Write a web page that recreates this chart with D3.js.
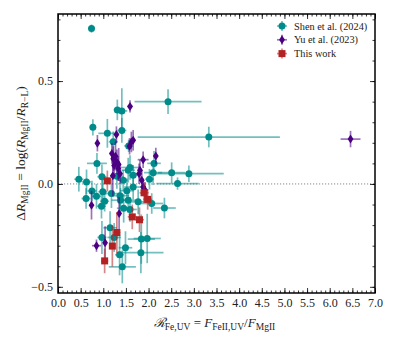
<!DOCTYPE html>
<html>
<head>
<meta charset="utf-8">
<script src="https://cdn.jsdelivr.net/npm/d3@7"></script>
<style>
  body { margin: 0; background: #fff; }
  text { font-family: "Liberation Serif", "DejaVu Serif", serif; }
</style>
</head>
<body>
<div id="chart"></div>
<script>
// [x, y, xerr, yerr]
var shen = [
  [0.74, 0.755, 0.04, 0.02], [2.43, 0.40, 0.74, 0.06], [1.31, 0.36, 0.08, 0.05],
  [1.41, 0.355, 0.12, 0.11], [0.77, 0.275, 0.04, 0.04], [1.09, 0.246, 0.2, 0.07],
  [1.41, 0.26, 0.1, 0.06], [1.22, 0.205, 0.1, 0.05], [1.56, 0.185, 0.1, 0.03],
  [3.33, 0.228, 1.57, 0.05], [2.12, 0.10, 0.15, 0.06], [0.86, 0.10, 0.22, 0.05],
  [1.59, 0.08, 0.2, 0.06], [0.46, 0.023, 0.1, 0.06], [0.63, 0.01, 0.1, 0.06],
  [0.97, 0.035, 0.1, 0.06], [1.30, 0.037, 0.15, 0.06], [1.55, 0.067, 0.15, 0.06],
  [1.66, 0.042, 0.1, 0.05], [2.10, 0.055, 0.2, 0.06], [2.51, 0.055, 0.3, 0.05],
  [2.64, 0.002, 0.47, 0.03], [2.89, 0.05, 0.77, 0.04], [2.02, 0.023, 0.1, 0.05],
  [1.66, -0.015, 0.2, 0.06], [1.52, -0.033, 0.15, 0.06], [0.85, -0.06, 0.1, 0.06],
  [0.99, -0.038, 0.1, 0.06], [0.62, -0.071, 0.1, 0.05], [0.96, -0.108, 0.1, 0.06],
  [1.03, -0.084, 0.1, 0.05], [1.18, -0.047, 0.15, 0.07], [1.37, -0.057, 0.2, 0.06],
  [1.38, -0.079, 0.2, 0.06], [1.45, -0.118, 0.15, 0.07], [1.55, -0.079, 0.2, 0.06],
  [1.59, -0.124, 0.15, 0.06], [1.77, -0.087, 0.2, 0.06], [2.07, -0.095, 0.25, 0.05],
  [2.35, -0.117, 0.25, 0.05], [1.15, -0.213, 0.15, 0.08], [0.97, -0.26, 0.1, 0.08],
  [1.24, -0.26, 0.15, 0.07], [1.36, -0.344, 0.1, 0.1], [1.49, -0.31, 0.15, 0.08],
  [1.42, -0.403, 0.3, 0.08], [1.83, -0.334, 0.5, 0.1], [1.84, -0.268, 0.3, 0.12],
  [1.97, -0.265, 0.3, 0.12], [1.44, 0.018, 0.1, 0.05], [0.75, -0.034, 0.1, 0.05]
];

var yu = [
  [6.46, 0.218, 0.22, 0.04], [1.59, 0.377, 0.06, 0.03], [1.29, 0.24, 0.05, 0.04],
  [0.87, 0.198, 0.04, 0.04], [1.62, 0.204, 0.05, 0.05], [1.66, 0.212, 0.05, 0.05],
  [1.58, 0.183, 0.04, 0.04], [1.88, 0.118, 0.12, 0.04], [2.16, 0.136, 0.05, 0.04],
  [1.19, 0.148, 0.05, 0.05], [1.22, 0.123, 0.05, 0.06], [1.30, 0.107, 0.05, 0.06],
  [1.33, 0.075, 0.05, 0.06], [1.37, 0.05, 0.05, 0.05], [1.24, 0.09, 0.05, 0.05],
  [1.27, 0.135, 0.05, 0.07], [1.34, 0.095, 0.05, 0.08], [1.21, 0.04, 0.04, 0.1],
  [1.81, 0.066, 0.05, 0.05], [1.79, 0.05, 0.06, 0.05], [1.85, 0.018, 0.05, 0.05],
  [1.88, -0.015, 0.05, 0.04], [1.92, -0.03, 0.05, 0.04], [0.74, -0.103, 0.05, 0.07],
  [1.35, -0.144, 0.04, 0.08], [1.04, -0.286, 0.04, 0.08], [0.85, -0.30, 0.1, 0.03]
];

var thisWork = [
  [1.09, 0.015, 0.05, 0.05], [1.90, -0.043, 0.1, 0.05], [1.98, -0.075, 0.1, 0.05],
  [1.64, -0.16, 0.1, 0.06], [1.80, -0.174, 0.1, 0.06], [1.30, -0.236, 0.08, 0.1],
  [1.20, -0.302, 0.05, 0.1], [1.03, -0.374, 0.08, 0.06]
];

var xTicks = [0, 0.5, 1, 1.5, 2, 2.5, 3, 3.5, 4, 4.5, 5, 5.5, 6, 6.5, 7];
var yTicks = [-0.5, 0, 0.5];
var legendLabels = ["Shen et al. (2024)", "Yu et al. (2023)", "This work"];

var width = 397, height = 340;
var plotL = 58, plotR = 375, plotT = 14, plotB = 293;

var svg = d3.select("#chart").append("svg")
  .attr("width", width)
  .attr("height", height);

var x = d3.scaleLinear().domain([0, 7]).range([plotL, plotR]);
var y = d3.scaleLinear().domain([-0.53, 0.826]).range([plotB, plotT]);

// zero line
svg.append("line")
  .attr("x1", plotL).attr("x2", plotR)
  .attr("y1", y(0)).attr("y2", y(0))
  .style("stroke", "#888")
  .style("stroke-width", 1)
  .style("stroke-dasharray", "1.2 1.8");

var series = [
  { data: shen, color: "#008b8b", err: "rgba(0,139,139,0.55)", shape: "circle" },
  { data: yu, color: "#4b0082", err: "rgba(75,0,130,0.55)", shape: "diamond" },
  { data: thisWork, color: "#b22222", err: "rgba(178,34,34,0.55)", shape: "square" }
];

function marker(g, shape, color) {
  if (shape == "circle") {
    g.append("circle").attr("r", 3.5).style("fill", color);
  } else if (shape == "diamond") {
    g.append("path").attr("d", "M0,-4.5L2.9,0L0,4.5L-2.9,0Z").style("fill", color);
  } else {
    g.append("rect").attr("x", -3.5).attr("y", -3.5).attr("width", 7).attr("height", 7).style("fill", color);
  }
}

series.forEach(function(s) {
  var g = svg.append("g");
  var pts = g.selectAll("g.pt").data(s.data).enter().append("g").attr("class", "pt");
  pts.append("line")
    .attr("x1", function(d) { return x(d[0] - d[2]); })
    .attr("x2", function(d) { return x(d[0] + d[2]); })
    .attr("y1", function(d) { return y(d[1]); })
    .attr("y2", function(d) { return y(d[1]); })
    .style("stroke", s.err).style("stroke-width", 1.7);
  pts.append("line")
    .attr("x1", function(d) { return x(d[0]); })
    .attr("x2", function(d) { return x(d[0]); })
    .attr("y1", function(d) { return y(d[1] - d[3]); })
    .attr("y2", function(d) { return y(d[1] + d[3]); })
    .style("stroke", s.err).style("stroke-width", 1.7);
  pts.each(function(d) {
    var m = d3.select(this).append("g")
      .attr("transform", "translate(" + x(d[0]) + "," + y(d[1]) + ")");
    marker(m, s.shape, s.color);
  });
});

// axes, ticks inward on all sides
var xMinor = d3.range(0, 7.001, 0.1);
var yMinor = d3.range(-0.5, 0.801, 0.1);

function styleAxis(g) {
  g.select(".domain").remove();
  g.selectAll("line").style("stroke", "#000").style("stroke-width", 0.8);
  g.selectAll("text").style("font-size", "12px").style("fill", "#222");
}

svg.append("g").attr("transform", "translate(0," + plotB + ")")
  .call(d3.axisBottom(x).tickValues(xTicks).tickFormat(d3.format(".1f")).tickSizeInner(-5).tickSizeOuter(0).tickPadding(5))
  .call(styleAxis);
svg.append("g").attr("transform", "translate(0," + plotB + ")")
  .call(d3.axisBottom(x).tickValues(xMinor).tickFormat("").tickSizeInner(-2.5).tickSizeOuter(0))
  .call(styleAxis);
svg.append("g").attr("transform", "translate(0," + plotT + ")")
  .call(d3.axisTop(x).tickValues(xTicks).tickFormat("").tickSizeInner(-5).tickSizeOuter(0))
  .call(styleAxis);
svg.append("g").attr("transform", "translate(0," + plotT + ")")
  .call(d3.axisTop(x).tickValues(xMinor).tickFormat("").tickSizeInner(-2.5).tickSizeOuter(0))
  .call(styleAxis);

svg.append("g").attr("transform", "translate(" + plotL + ",0)")
  .call(d3.axisLeft(y).tickValues(yTicks).tickFormat(d3.format(".1f")).tickSizeInner(-5).tickSizeOuter(0).tickPadding(5))
  .call(styleAxis);
svg.append("g").attr("transform", "translate(" + plotL + ",0)")
  .call(d3.axisLeft(y).tickValues(yMinor).tickFormat("").tickSizeInner(-2.5).tickSizeOuter(0))
  .call(styleAxis);
svg.append("g").attr("transform", "translate(" + plotR + ",0)")
  .call(d3.axisRight(y).tickValues(yTicks).tickFormat("").tickSizeInner(-5).tickSizeOuter(0))
  .call(styleAxis);
svg.append("g").attr("transform", "translate(" + plotR + ",0)")
  .call(d3.axisRight(y).tickValues(yMinor).tickFormat("").tickSizeInner(-2.5).tickSizeOuter(0))
  .call(styleAxis);

svg.append("rect")
  .attr("x", plotL).attr("y", plotT)
  .attr("width", plotR - plotL).attr("height", plotB - plotT)
  .style("fill", "none").style("stroke", "#000").style("stroke-width", 1.5);

// legend
var legend = svg.append("g").attr("transform", "translate(282,26)");
series.forEach(function(s, i) {
  var row = legend.append("g").attr("transform", "translate(0," + (i * 13.8) + ")");
  row.append("line").attr("x1", -5).attr("x2", 5).style("stroke", s.err).style("stroke-width", 1.7);
  row.append("line").attr("y1", -5).attr("y2", 5).style("stroke", s.err).style("stroke-width", 1.7);
  marker(row, s.shape, s.color);
  row.append("text").attr("x", 12).attr("y", 3.5)
    .style("font-size", "10.3px").style("fill", "#222")
    .text(legendLabels[i]);
});

// axis labels
var xl = svg.append("text")
  .attr("x", (plotL + plotR) / 2 - 2).attr("y", 327)
  .attr("text-anchor", "middle")
  .style("font-size", "13px").style("fill", "#222");
xl.append("tspan").style("font-style", "italic").text("\u211B");
xl.append("tspan").attr("dy", 3).style("font-size", "9.5px").text("Fe,UV");
xl.append("tspan").attr("dy", -3).text(" = ");
xl.append("tspan").style("font-style", "italic").text("F");
xl.append("tspan").attr("dy", 3).style("font-size", "9.5px").text("FeII,UV");
xl.append("tspan").attr("dy", -3).text("/");
xl.append("tspan").style("font-style", "italic").text("F");
xl.append("tspan").attr("dy", 3).style("font-size", "9.5px").text("MgII");

var yl = svg.append("text")
  .attr("transform", "translate(25," + ((plotT + plotB) / 2) + ") rotate(-90)")
  .attr("text-anchor", "middle")
  .style("font-size", "13.5px").style("fill", "#222");
yl.append("tspan").text("\u0394");
yl.append("tspan").style("font-style", "italic").text("R");
yl.append("tspan").attr("dy", 3).style("font-size", "9.5px").text("MgII");
yl.append("tspan").attr("dy", -3).text(" = log(");
yl.append("tspan").style("font-style", "italic").text("R");
yl.append("tspan").attr("dy", 3).style("font-size", "9.5px").text("MgII");
yl.append("tspan").attr("dy", -3).text("/");
yl.append("tspan").style("font-style", "italic").text("R");
yl.append("tspan").attr("dy", 3).style("font-size", "9.5px").text("R\u2212L");
yl.append("tspan").attr("dy", -3).text(")");
</script>
</body>
</html>
